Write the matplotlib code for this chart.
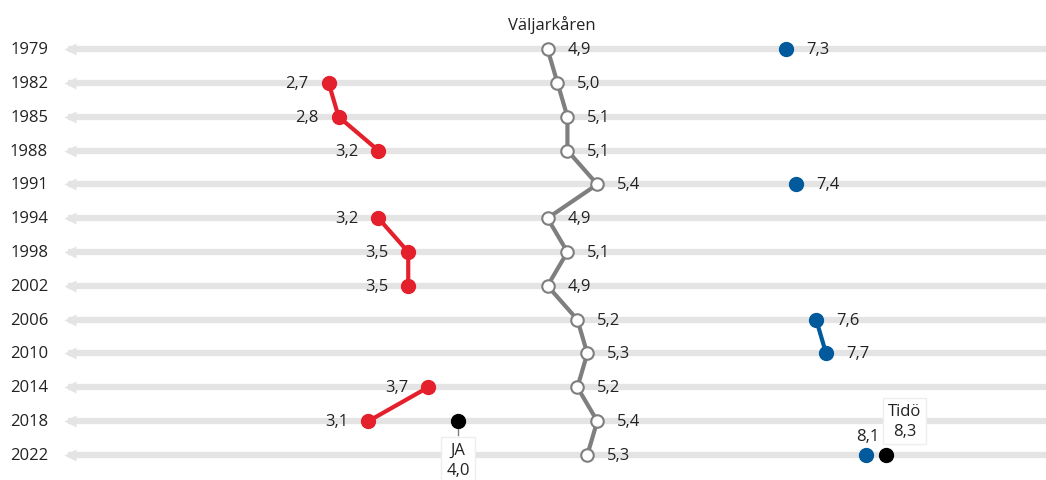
import numpy as np
import matplotlib.pyplot as plt

plt.rcParams['font.family'] = ['Open Sans', 'DejaVu Sans']

years = ['1979', '1982', '1985', '1988', '1991', '1994', '1998', '2002',
         '2006', '2010', '2014', '2018', '2022']
valjarkaren = [4.9, 5.0, 5.1, 5.1, 5.4, 4.9, 5.1, 4.9, 5.2, 5.3, 5.2, 5.4, 5.3]
red = [np.nan, 2.7, 2.8, 3.2, np.nan, 3.2, 3.5, 3.5, np.nan, np.nan, 3.7, 3.1, np.nan]
blue = [7.3, np.nan, np.nan, np.nan, 7.4, np.nan, np.nan, np.nan, 7.6, 7.7, np.nan, np.nan, 8.1]
black_years = ['2018', '2022']
black_vals = [4.0, 8.3]
black_names = ['JA', 'Tidö']

RED = '#e3202b'
BLUE = '#005a9c'
GRAY = '#7f7f7f'
GRID = '#e4e4e4'
TXT = '#222222'

def fmt(v):
    return f'{v:.1f}'.replace('.', ',')

fig = plt.figure(figsize=(10.46, 4.81), dpi=100)
ax = fig.add_axes([60 / 1046, 0, 1 - 60 / 1046, 1])
ax.set_xlim(0, 9.91)
ax.set_ylim(12.74, -1.48)
ax.axis('off')

rows = np.arange(len(years))
for r in rows:
    ax.plot([0.08, 9.91], [r, r], color=GRID, lw=4.5, solid_capstyle='butt', zorder=1)
    ax.plot(0.1, r, marker='<', ms=8, color=GRID, mec='none', zorder=1)
    ax.text(-0.12, r, years[r], ha='right', va='center', fontsize=12, color=TXT,
            clip_on=False)

# Väljarkåren
ax.plot(valjarkaren, rows, color=GRAY, lw=3, zorder=2)
ax.plot(valjarkaren, rows, 'o', ms=9, mfc='white', mec=GRAY, mew=1.5, zorder=3)
for r, v in zip(rows, valjarkaren):
    ax.text(v + 0.2, r, fmt(v), ha='left', va='center', fontsize=12, color=TXT, zorder=4)
ax.text(valjarkaren[0] + 0.04, -0.75, 'Väljarkåren', ha='center', va='center',
        fontsize=12, color=TXT)

# red series
ax.plot(red, rows, color=RED, lw=3, zorder=2)
ax.plot(red, rows, 'o', ms=10, color=RED, zorder=3)
for r, v in zip(rows, red):
    if not np.isnan(v):
        ax.text(v - 0.2, r, fmt(v), ha='right', va='center', fontsize=12, color=TXT, zorder=4)

# blue series
ax.plot(blue, rows, color=BLUE, lw=3, zorder=2)
ax.plot(blue, rows, 'o', ms=10, color=BLUE, zorder=3)
for r, v in zip(rows, blue):
    if np.isnan(v):
        continue
    if years[r] == '2022':
        ax.text(v + 0.02, r - 0.55, fmt(v), ha='center', va='center', fontsize=12, color=TXT, zorder=4)
    else:
        ax.text(v + 0.2, r, fmt(v), ha='left', va='center', fontsize=12, color=TXT, zorder=4)

# black points with boxed labels
bbox = dict(boxstyle='square,pad=0.3', fc='white', ec='#eeeeee', lw=1)
for y, v, name in zip(black_years, black_vals, black_names):
    r = years.index(y)
    ax.plot(v, r, 'o', ms=10, color='black', zorder=3)
    if name == 'JA':
        ax.plot([v, v], [r, r + 0.4], color=GRAY, lw=1, zorder=2)
        ax.text(v, r + 1.15, name + '\n' + fmt(v), ha='center', va='center', fontsize=12,
                color=TXT, bbox=bbox, linespacing=1.3, zorder=5)
    else:
        ax.text(v + 0.19, r - 1.0, name + '\n' + fmt(v), ha='center', va='center', fontsize=12,
                color=TXT, bbox=bbox, linespacing=1.3, zorder=5)

fig.savefig('out.png', dpi=100)
